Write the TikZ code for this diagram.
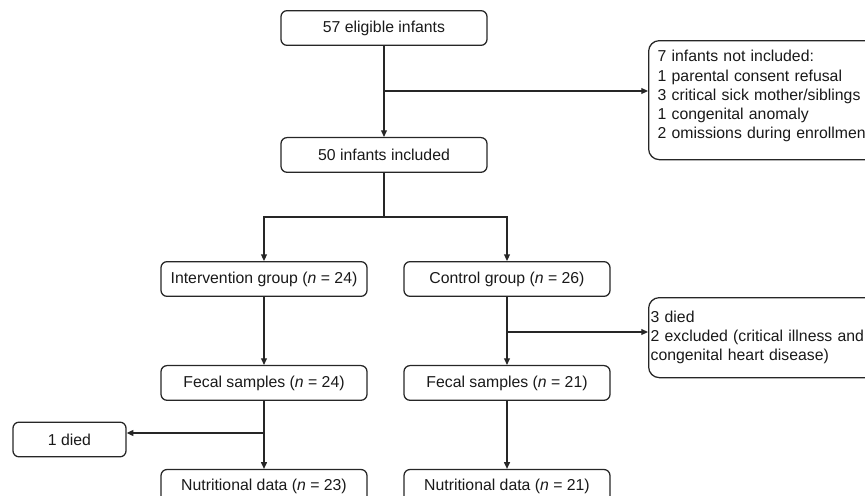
\documentclass[tikz,border=0pt]{standalone}
\usepackage{fontspec}
\setmainfont{Liberation Sans}
\usetikzlibrary{arrows.meta, positioning}

\begin{document}
\begin{tikzpicture}[x=0.75pt, y=-0.75pt, >={Triangle[length=5pt,width=4.4pt]}, line width=0.95pt, draw=black!85]
\tikzset{box/.style={rectangle, draw, align=center, rounded corners=4.5pt, minimum width=154.5pt, minimum height=26pt, inner sep=0pt},
		note/.style={rectangle, draw, align=left, anchor=north west, rounded corners=8pt, text width=200pt, inner ysep=0pt},
		every node/.style={font=\fontsize{11.85}{14.4}\selectfont, text=black!90}}
\useasboundingbox (0,0) rectangle (865,496);
\node[box] (ELIG) at (384,28) {57 eligible infants};
\node[box, below=68.25pt of ELIG] (INC) {50 infants included};
\node[note, inner xsep=6.75pt, minimum height=89.25pt] (EXC) at (648,40) {7 infants not included:\\1 parental consent refusal\\3 critical sick mother/siblings\\1 congenital anomaly\\2 omissions during enrollment\\[-6pt]\mbox{}};
\coordinate (B1) at (384,91);
\draw[->] (ELIG) -- (INC);
\draw[->] (B1) -- (B1 -| EXC.west);
\node[box] (INT) at (264,279) {Intervention group (\textit{n} = 24)};
\node[box] (CTL) at (507,279) {Control group (\textit{n} = 26)};
\coordinate (B2) at (384,217);
\draw (INC) -- (B2);
\draw[->] (B2) -| (INT);
\draw[->] (B2) -| (CTL);
\node[box, below=51pt of INT] (FS1) {Fecal samples (\textit{n} = 24)};
\node[box, below=51pt of CTL] (FS2) {Fecal samples (\textit{n} = 21)};
\node[note, inner xsep=1.5pt, minimum height=60pt] (DIED2) at (648,297) {3 died\\2 excluded (critical illness and\\congenital heart disease)};
\coordinate (B3) at (507,332);
\draw[->] (INT) -- (FS1);
\draw[->] (CTL) -- (FS2);
\draw[->] (B3) -- (B3 -| DIED2.west);
\node[box, below=51pt of FS1] (ND1) {Nutritional data (\textit{n} = 23)};
\node[box, below=51pt of FS2] (ND2) {Nutritional data (\textit{n} = 21)};
\node[box, minimum width=84.75pt] (DIED1) at (69.5,439.5) {1 died};
\coordinate (B4) at (264,433);
\draw[->] (FS1) -- (ND1);
\draw[->] (FS2) -- (ND2);
\draw[->] (B4) -- (B4 -| DIED1.east);
\end{tikzpicture}
\end{document}
